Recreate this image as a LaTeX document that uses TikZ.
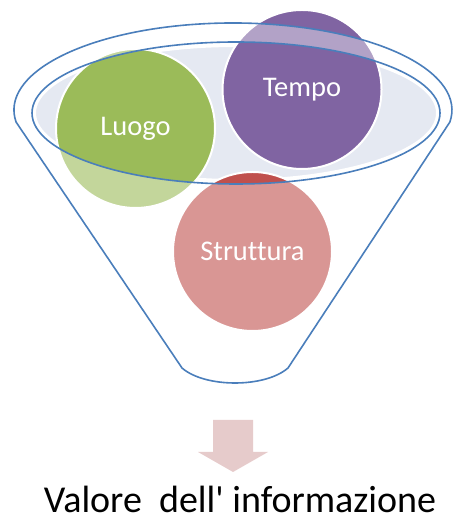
\documentclass[tikz,border=0pt]{standalone}
\usepackage{fontspec}
\setmainfont{Carlito}[Ligatures={NoCommon}]
\definecolor{cgreen}{HTML}{9BBB59}
\definecolor{cpurple}{HTML}{8064A2}
\definecolor{cred}{HTML}{C0504D}
\definecolor{cfill}{HTML}{E5E9F2}
\definecolor{cblue}{HTML}{4A7EBB}
\definecolor{carrow}{HTML}{E6CBCB}
\tikzset{
  ball/.style={circle, draw=white, line width=2pt, minimum size=159pt, inner sep=0pt,
    text=white, font=\fontsize{28.5}{31}\selectfont},
  rim/.style={draw=cblue, line width=1.6pt},
  capt/.style={anchor=base, inner sep=0pt, font=\fontsize{38}{42}\selectfont}
}
\newcommand{\funnelpath}{(16.1,398.9) arc[start angle=188, end angle=-8, x radius=219, y radius=87]
  -- (288,153) .. controls (265,133) and (205,133) .. (182,153) -- cycle}
\newcommand{\innerellipse}{(236,408) ellipse[x radius=204, y radius=71]}
\begin{document}
\begin{tikzpicture}[x=1pt,y=1pt]
\useasboundingbox (0,0) rectangle (453,521);
% light inner fill
\fill[cfill, draw=white, line width=2pt] (236,408) ellipse[x radius=201, y radius=67];
% circles
\node[ball, fill=cgreen] (luogo) at (135.5,392.5) {Luogo};
\node[ball, fill=cpurple] (tempo) at (302,431.5) {Tempo};
\node[ball, fill=cred] (struttura) at (252.5,269.5) {Struttura};
% translucent funnel body
\fill[white, opacity=0.4, even odd rule] \funnelpath \innerellipse;
% outlines
\draw[rim, line join=round] \funnelpath;
\draw[rim] \innerellipse;
% arrow
\fill[carrow] (213,101) -- (253,101) -- (253,69) -- (268,69) -- (233,49) -- (198,69) -- (213,69) -- cycle;
% caption
\node[capt] (valore) at (240,9) {Valore\ \ dell\textquotesingle\ informazione};
\end{tikzpicture}
\end{document}
